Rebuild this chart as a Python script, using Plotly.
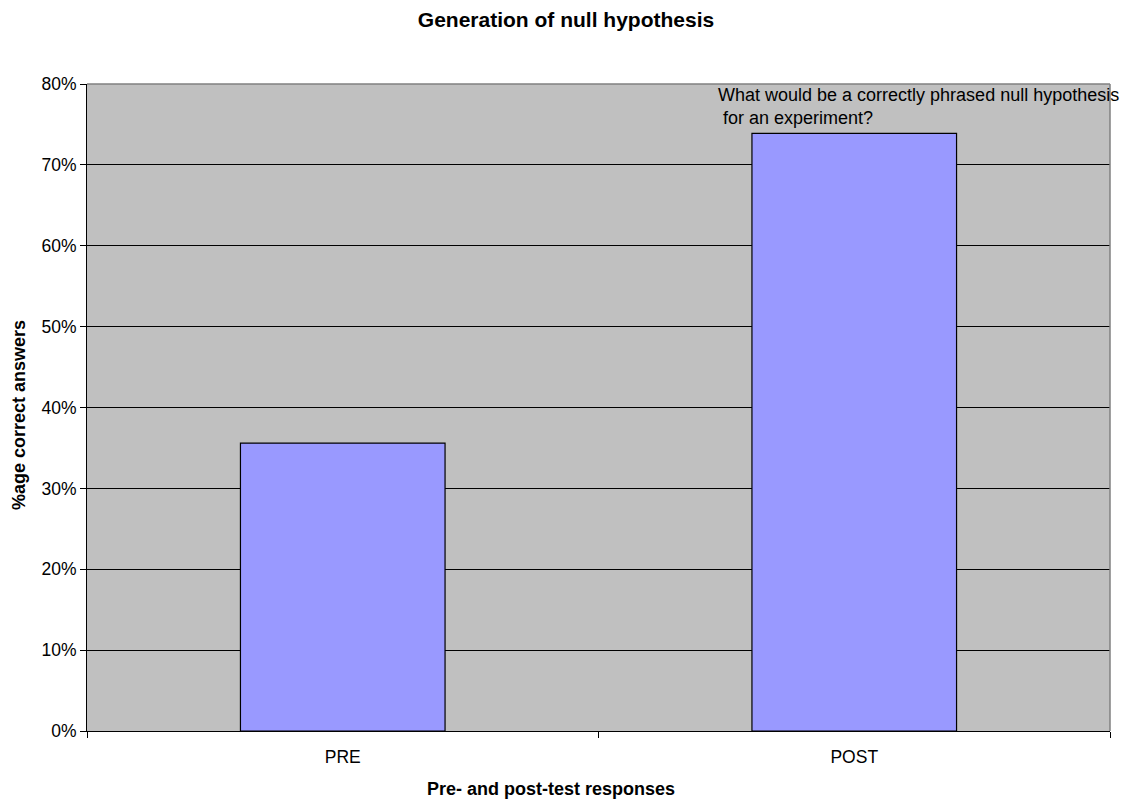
import plotly.graph_objects as go

# Share of correct answers before and after the course
categories = ["PRE", "POST"]
correct_share = [0.356, 0.739]
question_note = "What would be a correctly phrased null hypothesis<br> for an experiment?"

font_family = "Liberation Sans, Arial, sans-serif"
black = "#000000"

# Plotting-area edges in pixels (used to place the free-standing titles)
plot_left, plot_right, plot_top, plot_bottom = 87, 1110, 84, 731
plot_w = plot_right - plot_left
plot_h = plot_bottom - plot_top

fig = go.Figure(
    go.Bar(
        x=categories,
        y=correct_share,
        marker=dict(color="#9999FF", line=dict(color=black, width=1.2)),
        width=0.4,
        hoverinfo="x+y",
    )
)

# Question text written inside the plotting area
fig.add_annotation(
    x=0.615, xref="paper", xanchor="left",
    y=0.80, yref="y", yanchor="top",
    text=question_note, showarrow=False, align="left",
    font=dict(family=font_family, size=18, color=black),
    yshift=1,
)

# Horizontal axis title
fig.add_annotation(
    x=(551 - plot_left) / plot_w, xref="paper",
    y=-(789 - plot_bottom) / plot_h, yref="paper",
    text="<b>Pre- and post-test responses</b>", showarrow=False,
    xanchor="center", yanchor="middle",
    font=dict(family=font_family, size=18, color=black),
)

# Vertical axis title
fig.add_annotation(
    x=(19 - plot_left) / plot_w, xref="paper",
    y=(plot_bottom - 415) / plot_h, yref="paper",
    text="<b>%age correct answers</b>", showarrow=False, textangle=-90,
    xanchor="center", yanchor="middle",
    font=dict(family=font_family, size=18, color=black),
)

fig.update_layout(
    width=1123, height=799,
    margin=dict(l=plot_left, r=1123 - plot_right, t=plot_top, b=799 - plot_bottom),
    paper_bgcolor="#FFFFFF",
    plot_bgcolor="#C0C0C0",
    showlegend=False,
    font=dict(family=font_family, size=17, color=black),
    title=dict(
        text="<b>Generation of null hypothesis</b>",
        x=566 / 1123, xanchor="center", y=1 - 20 / 799, yanchor="middle",
        font=dict(family=font_family, size=21),
    ),
    xaxis=dict(
        type="category",
        tickson="boundaries",
        ticks="outside", ticklen=6, tickcolor=black,
        showline=True, linecolor=black, linewidth=1,
        showgrid=False,
        range=[-0.5, 1.5],
        tickfont=dict(family=font_family, size=17.5),
        ticklabelstandoff=10,
    ),
    yaxis=dict(
        range=[0, 0.8],
        dtick=0.1,
        tickformat=".0%",
        ticks="outside", ticklen=6, tickcolor=black,
        showline=True, linecolor=black, linewidth=1,
        showgrid=True, gridcolor=black, gridwidth=1,
        zeroline=False,
        tickfont=dict(family=font_family, size=17.5),
    ),
)

# Grey frame on the top and right edges of the plotting area
fig.add_shape(type="line", xref="paper", yref="paper", x0=0, x1=1, y0=1, y1=1,
              line=dict(color="#808080", width=1.5))
fig.add_shape(type="line", xref="paper", yref="paper", x0=1, x1=1, y0=0, y1=1,
              line=dict(color="#808080", width=1.5))

fig.write_html("out.html")
